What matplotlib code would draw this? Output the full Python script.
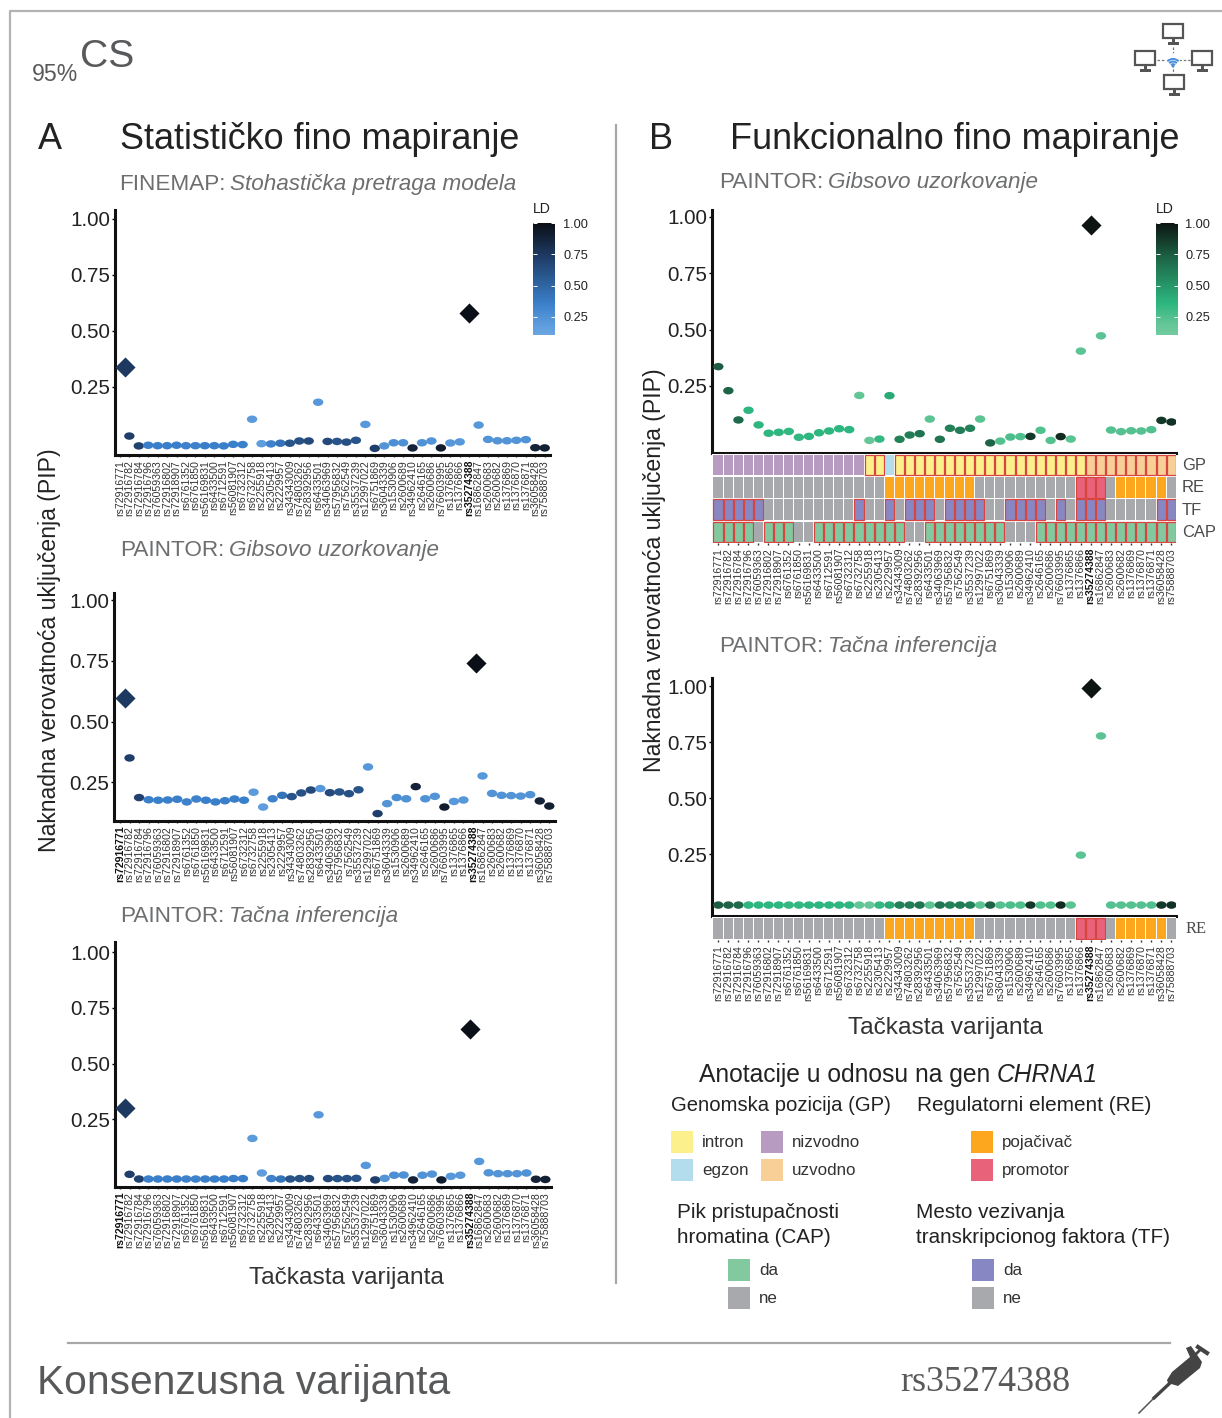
# plot.py - fine mapping figure, statistical vs functional panels

import numpy as np
import matplotlib
matplotlib.use("Agg")
import matplotlib.pyplot as plt
from matplotlib.colors import LinearSegmentedColormap
from matplotlib.patches import Rectangle, Polygon, Wedge, Circle
from matplotlib.path import Path
from matplotlib.transforms import Affine2D, ScaledTranslation

plt.rcParams["font.family"] = ["Liberation Sans", "DejaVu Sans"]

W, H = 1222, 1418

variants = [
    "rs72916771", "rs72916782", "rs72916784", "rs72916796", "rs76059363", "rs72916802",
    "rs72918907", "rs6761352", "rs6761850", "rs56169831", "rs6433500", "rs6712591",
    "rs56081907", "rs6732312", "rs6732758", "rs2255918", "rs2305413", "rs2229957",
    "rs34343009", "rs74803262", "rs28392956", "rs6433501", "rs34063969", "rs57956832",
    "rs7562549", "rs35537239", "rs12997022", "rs6751869", "rs36043339", "rs1530906",
    "rs2600689", "rs34962410", "rs2646165", "rs2600686", "rs76603995", "rs1376865",
    "rs1376866", "rs35274388", "rs16862847", "rs2600683", "rs2600682", "rs1376869",
    "rs1376870", "rs1376871", "rs36058428", "rs75888703",
]

ld = [
    0.75, 0.72, 0.70, 0.36, 0.36, 0.36, 0.36, 0.34, 0.34, 0.36, 0.36, 0.36,
    0.36, 0.36, 0.20, 0.18, 0.34, 0.42, 0.60, 0.62, 0.66, 0.22, 0.66, 0.60,
    0.62, 0.60, 0.22, 0.72, 0.24, 0.27, 0.26, 0.88, 0.25, 0.24, 0.92, 0.22,
    0.22, 1.00, 0.22, 0.24, 0.24, 0.24, 0.24, 0.25, 0.88, 0.90,
]

finemap_stochastic = [
    0.340, 0.031, -0.013, -0.010, -0.012, -0.012, -0.010, -0.012, -0.012, -0.012, -0.012, -0.013,
    -0.006, -0.007, 0.106, -0.003, -0.004, -0.001, -0.001, 0.009, 0.009, 0.182, 0.007, 0.007,
    0.004, 0.012, 0.083, -0.024, -0.013, 0.001, 0.001, -0.022, 0.001, 0.009, -0.022, 0.000,
    0.005, 0.580, 0.080, 0.016, 0.010, 0.010, 0.012, 0.015, -0.021, -0.022,
]
paintor_gibbs_a = [
    0.597, 0.350, 0.187, 0.178, 0.176, 0.177, 0.180, 0.169, 0.181, 0.176, 0.169, 0.174,
    0.181, 0.176, 0.209, 0.148, 0.182, 0.196, 0.191, 0.206, 0.218, 0.224, 0.207, 0.210,
    0.203, 0.219, 0.313, 0.121, 0.162, 0.187, 0.182, 0.232, 0.182, 0.192, 0.148, 0.171,
    0.177, 0.741, 0.276, 0.204, 0.196, 0.195, 0.193, 0.199, 0.173, 0.152,
]
paintor_exact_a = [
    0.300, 0.003, -0.018, -0.018, -0.018, -0.018, -0.018, -0.018, -0.018, -0.018, -0.018, -0.018,
    -0.016, -0.016, 0.164, 0.009, -0.016, -0.018, -0.018, -0.016, -0.016, 0.270, -0.016, -0.016,
    -0.016, -0.015, 0.043, -0.022, -0.015, -0.001, 0.000, -0.022, -0.001, 0.004, -0.022, -0.006,
    -0.001, 0.655, 0.061, 0.010, 0.006, 0.006, 0.006, 0.009, -0.019, -0.020,
]
paintor_gibbs_b = [
    0.335, 0.228, 0.098, 0.141, 0.076, 0.039, 0.043, 0.047, 0.021, 0.025, 0.041, 0.049,
    0.059, 0.055, 0.207, 0.007, 0.013, 0.206, 0.012, 0.031, 0.037, 0.102, 0.012, 0.061,
    0.052, 0.061, 0.102, -0.004, 0.004, 0.022, 0.024, 0.025, 0.052, 0.007, 0.024, 0.013,
    0.404, 0.964, 0.472, 0.053, 0.046, 0.050, 0.049, 0.055, 0.096, 0.089,
]
paintor_exact_b = [
    0.022, 0.022, 0.022, 0.022, 0.022, 0.022, 0.022, 0.022, 0.022, 0.022, 0.022, 0.022,
    0.022, 0.022, 0.022, 0.022, 0.022, 0.022, 0.022, 0.022, 0.022, 0.022, 0.022, 0.022,
    0.022, 0.022, 0.022, 0.022, 0.022, 0.022, 0.022, 0.022, 0.022, 0.022, 0.022, 0.022,
    0.245, 0.990, 0.777, 0.022, 0.022, 0.022, 0.022, 0.022, 0.022, 0.022,
]

# annotation tracks, one code per variant
gp_track = ["d"] * 15 + ["i"] * 2 + ["e"] + ["i"] * 19 + ["u"] * 9
re_track = ["n"] * 17 + ["a"] * 9 + ["n"] * 10 + ["p"] * 3 + ["n"] + ["a"] * 5 + ["n"]
tf_yes = [0, 1, 2, 3, 4, 14, 17, 19, 20, 21, 23, 24, 25, 26, 29, 30, 31, 32, 34, 36, 37, 38, 44, 45]
cap_no = [4, 8, 9, 19, 20, 29, 30, 31]
y_ticks = [0.25, 0.50, 0.75, 1.00]
ld_ticks = [0.25, 0.50, 0.75, 1.00]

GRAY = "#a7a9ac"
RED = "#d8443f"
TEXT = "#3a3a3a"
SUB = "#6d6e70"
gp_colors = {"d": "#b89bc0", "i": "#fbf08c", "e": "#b3dcec", "u": "#f8cf96"}
re_colors = {"n": GRAY, "a": "#fca71e", "p": "#e8637a"}
TF_COLOR = "#8787c3"
CAP_COLOR = "#83c99f"

blues = LinearSegmentedColormap.from_list(
    "ld_blue", [(0, "#7fb2e8"), (0.2, "#5b9bdc"), (0.36, "#3a7fc9"), (0.7, "#21426f"), (1, "#0b0f17")])
greens = LinearSegmentedColormap.from_list(
    "ld_green", [(0, "#86d3ac"), (0.2, "#62c596"), (0.36, "#2db67f"), (0.7, "#1f6b4b"), (1, "#0c1512")])

dot_path = Affine2D().scale(1, 0.72).transform_path(Path.unit_circle())

fig = plt.figure(figsize=(W / 100, H / 100), dpi=100)

# overlay in pixel coordinates for frame, text and icons
bg = fig.add_axes([0, 0, 1, 1], zorder=5)
bg.set_xlim(0, W)
bg.set_ylim(H, 0)
bg.axis("off")


def px_axes(left, top, right, bottom):
    return fig.add_axes([left / W, 1 - bottom / H, (right - left) / W, (bottom - top) / H])


def label(x, y, s, size, color=TEXT, **kwargs):
    # va center sits a bit high, push horizontal text down
    if "rotation" not in kwargs:
        y = y + size * 0.08
    return bg.text(x, y, s, fontsize=size * 0.72, color=color, va="center", **kwargs)


def mixed(x, y, plain, italic, size, color=TEXT):
    t = label(x, y, plain, size, color)
    ext = t.get_window_extent(fig.canvas.get_renderer())
    label(x + ext.width + size * 0.22, y, italic, size, color, style="italic")


def set_ticklabels(ax, bold):
    ax.set_xticks(np.arange(len(variants)))
    ax.set_xticklabels(variants, rotation=90, fontsize=7.55, color="#333333")
    shift = ScaledTranslation(1.5 / 100, 0, fig.dpi_scale_trans)
    for lab in ax.get_xticklabels():
        lab.set_transform(lab.get_transform() + shift)
    for i in bold:
        ax.get_xticklabels()[i].set_fontweight("bold")
        ax.get_xticklabels()[i].set_color("#111111")
    ax.tick_params(axis="x", length=1.5, width=1, pad=2, color="#333333")


def pip_panel(box, x_first, x_step, y_one, y_scale, values, cmap, diamonds, bold):
    left, top, right, bottom = box
    ax = px_axes(left, top, right, bottom)
    ax.set_xlim((left - x_first) / x_step, (right - x_first) / x_step)
    ax.set_ylim(1 - (bottom - y_one) / y_scale, 1 + (y_one - top) / y_scale)
    ax.patch.set_alpha(0)
    x = np.arange(len(values))
    y = np.array(values)
    colors = cmap(np.array(ld))
    is_lead = np.isin(x, list(diamonds))
    ax.scatter(x[~is_lead], y[~is_lead], s=56, marker=dot_path, c=colors[~is_lead], linewidths=0, zorder=3)
    for i, shift in diamonds.items():
        ax.scatter(i + shift, y[i], s=105, marker="D", color=colors[i], linewidths=0, zorder=4, clip_on=False)
    for side in ["top", "right"]:
        ax.spines[side].set_visible(False)
    for side in ["left", "bottom"]:
        ax.spines[side].set_linewidth(2.2)
        ax.spines[side].set_color("#111111")
    ax.set_yticks(y_ticks)
    ax.set_yticklabels(["%.2f" % t for t in y_ticks], fontsize=14.9, color="#222222")
    ax.tick_params(axis="y", length=2, width=1, pad=1.5)
    if bold is None:
        ax.set_xticks([])
    else:
        set_ticklabels(ax, bold)
    return ax


def track(ax, row, colors, edges):
    for i, c in enumerate(colors):
        ax.add_patch(Rectangle((i - 0.45, row - 0.46), 0.90, 0.92, facecolor=c,
                               edgecolor=RED if i in edges else "none", linewidth=0.9))


def track_axes(box, x_first, x_step, n_rows, bold):
    left, top, right, bottom = box
    ax = px_axes(left, top, right, bottom)
    ax.set_xlim((left - x_first) / x_step, (right - x_first) / x_step)
    ax.set_ylim(n_rows - 0.5, -0.5)
    ax.set_yticks([])
    for s in ax.spines.values():
        s.set_visible(False)
    set_ticklabels(ax, bold)
    return ax


def colorbar(left, text_x, cmap):
    ax = px_axes(left, 223, left + 22, 335)
    scale = 125.3
    low = 1 - 112 / scale
    grad = np.linspace(1, low, 256).reshape(-1, 1)
    ax.imshow(grad, aspect="auto", cmap=cmap, vmin=0, vmax=1, extent=[0, 1, low, 1])
    ax.hlines(ld_ticks, 0, 0.18, color="white", lw=0.7)
    ax.hlines(ld_ticks, 0.82, 1, color="white", lw=0.7)
    ax.set_xticks([])
    ax.set_yticks(ld_ticks)
    ax.set_yticklabels(["%.2f" % t for t in ld_ticks], fontsize=9.2, color="#222222")
    ax.yaxis.tick_right()
    ax.tick_params(axis="y", length=0, pad=(text_x - left - 22) * 0.72)
    for s in ax.spines.values():
        s.set_visible(False)
    label(left + 9, 208, "LD", 14, "#222222", ha="center")


# left column
pip_panel((115, 210, 550, 455), 119.9, 9.44, 219, 224, finemap_stochastic, blues, {0: 0.5, 37: 0.0}, [37])
pip_panel((114, 593, 555, 821), 120.0, 9.54, 600, 243, paintor_gibbs_a, blues, {0: 0.5, 37: 0.3}, [0, 37])
pip_panel((115, 942, 551, 1187), 120.1, 9.45, 952, 223, paintor_exact_a, blues, {0: 0.5, 37: 0.0}, [0, 37])
colorbar(533, 563, blues)

# right column
pip_panel((712, 210, 1176, 453), 718.3, 10.07, 217, 225, paintor_gibbs_b, greens, {37: 0.0}, None)
pip_panel((712, 678, 1176, 916), 718.3, 10.07, 686, 224, paintor_exact_b, greens, {37: 0.0}, None)
colorbar(1156, 1185, greens)

tax = track_axes((712, 454, 1176, 543), 718.0, 10.07, 4, [37])
everywhere = set(range(len(variants)))
track(tax, 0, [gp_colors[c] for c in gp_track], [i for i, c in enumerate(gp_track) if c != "d" and c != "e"])
track(tax, 1, [re_colors[c] for c in re_track], [i for i, c in enumerate(re_track) if c == "p"])
track(tax, 2, [TF_COLOR if i in tf_yes else GRAY for i in range(len(variants))], tf_yes)
track(tax, 3, [GRAY if i in cap_no else CAP_COLOR for i in range(len(variants))], everywhere - set(cap_no))

rax = track_axes((712, 917, 1176, 940), 718.0, 10.07, 1, [37])
track(rax, 0, [re_colors[c] for c in re_track], [i for i, c in enumerate(re_track) if c == "p"])

for name, y in zip(["GP", "RE", "TF", "CAP"], [464, 486, 509, 531]):
    label(1182, y, name, 16.5, "#4a4a4a")
label(1186, 928, "RE", 16.5, "#4a4a4a", family="Liberation Serif")

# frame and separators
bg.plot([10, 10, W], [H, 11, 11], color="#b3b3b3", lw=1.6)
bg.plot([616, 616], [125, 1283], color="#a8a8a8", lw=1.6)
bg.plot([68, 1170], [1343, 1343], color="#a8a8a8", lw=1.6)

# headings
label(80, 54, "CS", 39, "#58595b")
label(32, 72.5, "95%", 23, "#58595b")
label(38, 137, "A", 36, "#222222")
label(649, 137, "B", 36, "#222222")
label(120, 137, "Statističko fino mapiranje", 36, "#222222")
label(730, 137, "Funkcionalno fino mapiranje", 36, "#222222")
mixed(119, 183, "FINEMAP:", "Stohastička pretraga modela", 22.5, SUB)
mixed(120, 549, "PAINTOR:", "Gibsovo uzorkovanje", 22.5, SUB)
mixed(120, 915, "PAINTOR:", "Tačna inferencija", 22.5, SUB)
mixed(719, 181, "PAINTOR:", "Gibsovo uzorkovanje", 22.5, SUB)
mixed(719, 645, "PAINTOR:", "Tačna inferencija", 22.5, SUB)

ylab = "Naknadna verovatnoća uključenja (PIP)"
label(50, 650, ylab, 23, "#222222", rotation=90, ha="center")
label(654, 570, ylab, 23, "#222222", rotation=90, ha="center")
label(346, 1276, "Tačkasta varijanta", 24.5, "#333333", ha="center")
label(945, 1026, "Tačkasta varijanta", 24.5, "#333333", ha="center")

label(37, 1380, "Konsenzusna varijanta", 40.7, "#58595b")
label(900, 1380, "rs35274388", 36, "#58595b", family="Liberation Serif")

# legend
t = label(699, 1073, "Anotacije u odnosu na gen ", 24.6, "#222222")
ext = t.get_window_extent(fig.canvas.get_renderer())
label(699 + ext.width, 1073, "CHRNA1", 24.6, "#222222", style="italic")
label(671, 1104, "Genomska pozicija (GP)", 20.3, "#222222")
label(917, 1104, "Regulatorni element (RE)", 20.8, "#222222")
label(677, 1211, "Pik pristupačnosti", 20.7, "#222222")
label(677, 1236, "hromatina (CAP)", 20.7, "#222222")
label(916, 1211, "Mesto vezivanja", 20.7, "#222222")
label(916, 1236, "transkripcionog faktora (TF)", 20.7, "#222222")

legend_items = [
    (671, 1131, gp_colors["i"], "intron"), (761, 1131, gp_colors["d"], "nizvodno"),
    (671, 1159, gp_colors["e"], "egzon"), (761, 1159, gp_colors["u"], "uzvodno"),
    (971, 1131, re_colors["a"], "pojačivač"), (971, 1159, re_colors["p"], "promotor"),
    (728, 1259, CAP_COLOR, "da"), (728, 1287, GRAY, "ne"),
    (972, 1259, TF_COLOR, "da"), (972, 1287, GRAY, "ne"),
]
for x, y, c, s in legend_items:
    bg.add_patch(Rectangle((x, y), 22, 22, facecolor=c, edgecolor="none"))
    label(x + 31, y + 10, s, 17, "#333333")


# network icon top right
def monitor(x, y):
    bg.add_patch(Rectangle((x, y), 20, 14, facecolor="white", edgecolor="#555555", lw=1.6))
    bg.add_patch(Rectangle((x + 8.5, y + 14), 3, 4, facecolor="#555555", edgecolor="none"))
    bg.add_patch(Rectangle((x + 4.5, y + 18), 11, 2.5, facecolor="#555555", edgecolor="none"))


for mx, my in [(1163, 24), (1135, 51), (1192, 51), (1164, 75)]:
    monitor(mx, my)
bg.plot([1157, 1191], [60, 60], color="#777777", lw=0.9, ls=(0, (2, 1.5)))
bg.plot([1173, 1173], [47, 74], color="#777777", lw=0.9, ls=(0, (2, 1.5)))
bg.add_patch(Circle((1173, 60), 7, facecolor="white", edgecolor="none", zorder=2))
for r in [3.8, 6.4, 9.0]:
    bg.add_patch(Wedge((1173, 67), r, 225, 315, width=2.0, facecolor="#4a90d9", edgecolor="none", zorder=3))
bg.add_patch(Circle((1173, 66), 1.5, facecolor="#4a90d9", edgecolor="none", zorder=3))

# pipette icon bottom right
bg.add_patch(Polygon(
    [(1167, 1380), (1172, 1372), (1190, 1357), (1186, 1348), (1191, 1346), (1202, 1362),
     (1200, 1368), (1178, 1386), (1168, 1383)],
    facecolor="#444444", edgecolor="none"))
bg.plot([1196, 1201], [1354, 1349], color="#444444", lw=2)
bg.plot([1198, 1207], [1347, 1353], color="#444444", lw=3)
bg.plot([1170, 1154], [1383, 1398], color="#444444", lw=2.4)
bg.plot([1153, 1139], [1399, 1413], color="#555555", lw=1.1)

fig.savefig("out.png", dpi=100)
